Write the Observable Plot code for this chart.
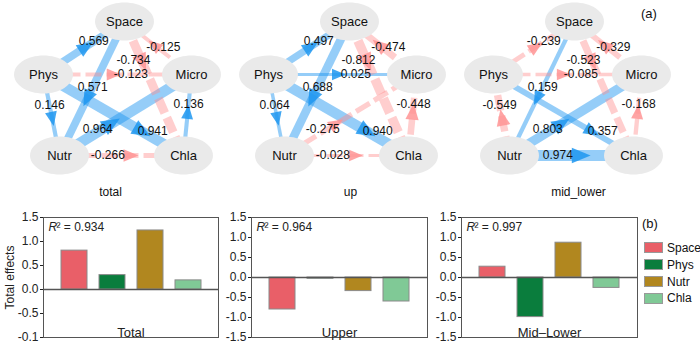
<!DOCTYPE html>
<html><head><meta charset="utf-8">
<script src="https://cdn.jsdelivr.net/npm/d3@7"></script>
<script src="https://cdn.jsdelivr.net/npm/@observablehq/plot@0.6"></script>
<style>
body{margin:0;background:#fff;font-family:"Liberation Sans",Arial,sans-serif;color:#111;}
#wrap{position:relative;width:700px;height:345px;overflow:hidden;}
#wrap > div{position:absolute;white-space:nowrap;}
.lg{font-size:12px;white-space:nowrap;line-height:15px;}
.sw{display:inline-block;width:17px;height:9px;border:1px solid #999;vertical-align:middle;margin-right:4px;position:relative;top:-1px;}
</style></head><body><div id="wrap"></div>
<script>
// ---------------- data ----------------
const panels = ["total", "up", "mid_lower"];
const nodeNames = ["Space", "Phys", "Micro", "Nutr", "Chla"];

const fromTotal = ["Phys","Micro","Space","Phys","Space","Phys","Nutr","Phys","Chla","Nutr"];
const toTotal   = ["Space","Space","Chla","Micro","Nutr","Nutr","Micro","Chla","Micro","Chla"];
const coefTotal = [0.569, -0.125, -0.734, -0.123, 0.571, 0.146, 0.964, 0.941, 0.136, -0.266];

const fromUp = ["Phys","Micro","Space","Phys","Space","Phys","Nutr","Phys","Chla","Nutr"];
const toUp   = ["Space","Space","Chla","Micro","Nutr","Nutr","Micro","Chla","Micro","Chla"];
const coefUp = [0.497, -0.474, -0.812, 0.025, 0.688, 0.064, -0.275, 0.940, -0.448, -0.028];

const fromMidLower = ["Phys","Micro","Space","Phys","Space","Nutr","Nutr","Phys","Chla","Nutr"];
const toMidLower   = ["Space","Space","Chla","Micro","Nutr","Phys","Micro","Chla","Micro","Chla"];
const coefMidLower = [-0.239, -0.329, -0.523, -0.085, 0.159, -0.549, 0.803, 0.357, -0.168, 0.974];

const categories = ["Space", "Phys", "Nutr", "Chla"];
const effectsTotal = [0.81, 0.30, 1.23, 0.19];
const effectsUpper = [-0.80, -0.03, -0.34, -0.60];
const effectsMidLower = [0.27, -0.99, 0.87, -0.26];
const r2Values = ["0.934", "0.964", "0.997"];
const barTitles = ["Total", "Upper", "Mid\u2013Lower"];
const ticksTotal = [1.5, 1, 0.5, 0, -0.5, -1];
const tickLabelsTotal = ["1.5", "1.0", "0.5", "0.0", "-0.5", "-0.1"];
const ticksOther = [1.5, 1, 0.5, 0, -0.5, -1, -1.5];
const tickLabelsOther = ["1.5", "1.0", "0.5", "0.0", "-0.5", "-1.0", "-1.5"];

// ---------------- layout / style ----------------
const colors = ["#E95F68", "#0A7D3D", "#B1871F", "#80C996"];
const nodeX = [124, 43, 191, 59, 183];
const nodeY = [21, 74, 74, 155, 155];
const captionX = [110, 125, 128];
const pairA = ["Phys","Space","Space","Phys","Space","Phys","Nutr","Phys","Chla","Nutr"];
const pairB = ["Space","Micro","Chla","Micro","Nutr","Nutr","Micro","Chla","Micro","Chla"];
const arrowT = [0.52, 0.45, 0.30, 0.47, 0.57, 0.54, 0.39, 0.70, 0.53, 0.57];
const labelT = [0.62, 0.58, 0.27, 0.59, 0.49, 0.38, 0.29, 0.78, 0.63, 0.39];
const labelDx = [0, 0, -7, 0, 0, 0, 0, 0, 0, 0];
const labelDy = [0, -5, 2, 0, 0, 0, -3, -7, 0, 0];

const pos = n => [nodeX[nodeNames.indexOf(n)], nodeY[nodeNames.indexOf(n)]];
const panelPaths = [[fromTotal, toTotal, coefTotal], [fromUp, toUp, coefUp], [fromMidLower, toMidLower, coefMidLower]];
const edges = [];
panels.forEach((p, k) => {
  const [F, T, C] = panelPaths[k];
  C.forEach((c, i) => {
    const [ax, ay] = pos(pairA[i]), [bx, by] = pos(pairB[i]);
    const [fx0, fy0] = pos(F[i]), [tx, ty] = pos(T[i]);
    edges.push({
      panel: p, c, label: c.toFixed(3),
      x1: ax, y1: ay, x2: bx, y2: by,
      arX: ax + arrowT[i] * (bx - ax), arY: ay + arrowT[i] * (by - ay),
      rot: Math.atan2(tx - fx0, -(ty - fy0)) * 180 / Math.PI,
      lx: ax + labelT[i] * (bx - ax) + labelDx[i], ly: ay + labelT[i] * (by - ay) + labelDy[i]
    });
  });
});
const nodes = nodeNames.map((n, i) => ({name: n, x: nodeX[i], y: nodeY[i]}));
const captions = panels.map((p, i) => ({panel: p, x: captionX[i]}));

const ellipseSym = {draw(ctx, size) {
  const ry = Math.sqrt(size / Math.PI), rx = ry * 1.55, k = 0.5523;
  ctx.moveTo(rx, 0);
  ctx.bezierCurveTo(rx, k * ry, k * rx, ry, 0, ry);
  ctx.bezierCurveTo(-k * rx, ry, -rx, k * ry, -rx, 0);
  ctx.bezierCurveTo(-rx, -k * ry, -k * rx, -ry, 0, -ry);
  ctx.bezierCurveTo(k * rx, -ry, rx, -k * ry, rx, 0);
  ctx.closePath();
}};
const arrowSym = {draw(ctx, size) {
  const r = Math.sqrt(size / Math.PI);
  ctx.moveTo(0, -r);
  ctx.lineTo(r * 0.75, r * 0.8);
  ctx.lineTo(-r * 0.75, r * 0.8);
  ctx.closePath();
}};

const FONT = "'Liberation Sans', Arial, sans-serif";
const wrap = document.getElementById("wrap");
function place(el, left, top) {
  const d = document.createElement("div");
  d.style.left = left + "px"; d.style.top = top + "px";
  d.appendChild(el); wrap.appendChild(d); return d;
}

const posE = edges.filter(d => d.c >= 0), negE = edges.filter(d => d.c < 0);
const lw = d => 3 + 8 * Math.abs(d.c);
const ar = d => 7.5 + 3 * Math.abs(d.c);

const net = Plot.plot({
  width: 700, height: 200,
  marginLeft: 0, marginRight: 25, marginTop: 0, marginBottom: 25,
  x: {domain: [0, 225], axis: null},
  y: {domain: [0, 175], reverse: true, axis: null},
  r: {type: "identity"},
  fx: {domain: panels, padding: 0, axis: null},
  style: {fontFamily: FONT, fontSize: "12px", background: "transparent", overflow: "visible", color: "#111"},
  marks: [
    Plot.link(posE, {x1: "x1", y1: "y1", x2: "x2", y2: "y2", fx: "panel", stroke: "#2196F0", strokeOpacity: 0.48, strokeWidth: lw}),
    Plot.link(negE, {x1: "x1", y1: "y1", x2: "x2", y2: "y2", fx: "panel", stroke: "#FF8A8A", strokeOpacity: 0.42, strokeWidth: lw, strokeDasharray: "16,5"}),
    Plot.dot(nodes, {x: "x", y: "y", r: 19, symbol: ellipseSym, fill: "#EAEAEA", stroke: "none"}),
    Plot.dot(posE, {x: "arX", y: "arY", fx: "panel", rotate: "rot", r: ar, symbol: arrowSym, fill: "#1E96F0", fillOpacity: 0.85, stroke: "none"}),
    Plot.dot(negE, {x: "arX", y: "arY", fx: "panel", rotate: "rot", r: ar, symbol: arrowSym, fill: "#FF9494", fillOpacity: 0.85, stroke: "none"}),
    Plot.text(nodes, {x: "x", y: "y", text: "name", fontSize: 13}),
    Plot.text(edges, {x: "lx", y: "ly", fx: "panel", text: "label", fontSize: 12}),
    Plot.text(captions, {x: "x", fx: "panel", frameAnchor: "bottom", text: "panel", lineAnchor: "middle", dy: 17, fontSize: 12})
  ]
});
place(net, 0, 0);

function barChart(values, k, ticks, tickLabels, ylabel, width, marginLeft) {
  const rows = categories.map((c, i) => ({cat: c, v: values[i]}));
  return Plot.plot({
    width, height: 145, marginLeft, marginRight: 4, marginTop: 17, marginBottom: 8,
    x: {domain: categories, paddingInner: 0.32, paddingOuter: 0.44, axis: null},
    y: {domain: [ticks[ticks.length - 1], ticks[0]], ticks, tickFormat: d => tickLabels[ticks.indexOf(d)],
        tickSize: 3, tickPadding: 2, label: ylabel, labelArrow: "none", labelAnchor: "center", labelOffset: 38},
    color: {domain: categories, range: colors},
    style: {fontFamily: FONT, fontSize: "12px", background: "transparent", overflow: "visible", color: "#222"},
    marks: [
      Plot.barY(rows, {x: "cat", y: "v", fill: "cat", stroke: "#8a8a8a", strokeWidth: 1}),
      Plot.ruleY([0], {stroke: "#555", strokeWidth: 1.3}),
      Plot.frame({stroke: "#555"}),
      Plot.text([barTitles[k]], {frameAnchor: "bottom", text: d => d, lineAnchor: "bottom", dy: -1, fontSize: 13}),
      Plot.text(["R"], {frameAnchor: "top-left", text: d => d, textAnchor: "start", lineAnchor: "top", dx: 5, dy: 5, fontSize: 12, fontStyle: "italic"}),
      Plot.text(["\u00B2 = " + r2Values[k]], {frameAnchor: "top-left", text: d => d, textAnchor: "start", lineAnchor: "top", dx: 13, dy: 5, fontSize: 12})
    ]
  });
}
place(barChart(effectsTotal, 0, ticksTotal, tickLabelsTotal, "Total effects", 222, 43), 0, 200);
place(barChart(effectsUpper, 1, ticksOther, tickLabelsOther, null, 208, 28), 223, 200);
place(barChart(effectsMidLower, 2, ticksOther, tickLabelsOther, null, 208, 28), 433, 200);

// panel tags and legend
const tagA = document.createElement("div"); tagA.className = "lg"; tagA.style.fontSize = "13px"; tagA.textContent = "(a)";
place(tagA, 641, 6);
const tagB = document.createElement("div"); tagB.className = "lg"; tagB.style.fontSize = "13px"; tagB.textContent = "(b)";
place(tagB, 642, 216);
categories.forEach((c, i) => {
  const row = document.createElement("div"); row.className = "lg";
  const sw = document.createElement("span"); sw.className = "sw"; sw.style.background = colors[i];
  row.appendChild(sw); row.appendChild(document.createTextNode(c));
  place(row, 644, 241 + i * 16.8);
});
</script></body></html>
